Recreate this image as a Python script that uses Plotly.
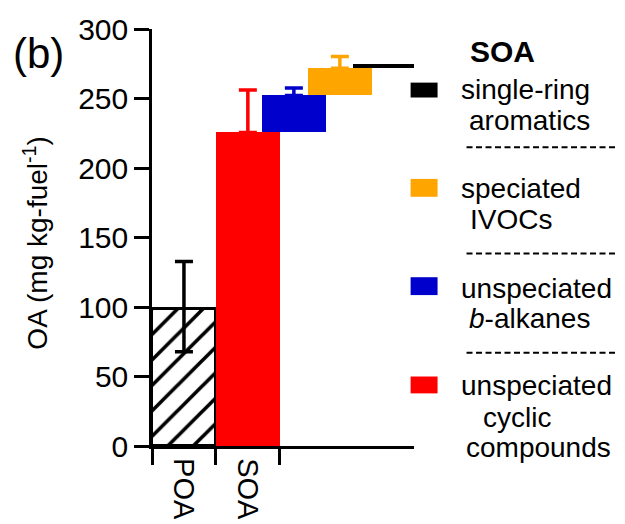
import plotly.graph_objects as go

# ---------------- data ----------------
categories = ["POA", "SOA"]
poa_value = 98.6
poa_err_up = 34.2
poa_err_down = 30.8

soa_components = ["unspeciated cyclic compounds", "unspeciated b-alkanes",
                  "speciated IVOCs", "single-ring aromatics"]
soa_values = [225.6, 26.6, 19.6, 2.8]
soa_err_up = [30.5, 5.3, 8.5, 0.0]
soa_colors = ["#FF0000", "#0000CC", "#FFA500", "#000000"]

legend_lines = [["single-ring", "aromatics"],
                ["speciated", "IVOCs"],
                ["unspeciated", "<i>b</i>-alkanes"],
                ["unspeciated", "cyclic", "compounds"]]
legend_colors = ["#000000", "#FFA500", "#0000CC", "#FF0000"]

y_ticks = [0, 50, 100, 150, 200, 250, 300]

# ---------------- layout constants ----------------
W, H = 625, 524
L, T, B = 152, 26, 78
x_range = [-0.5, 3.6]
unit_px = 64.0
plot_w = (x_range[1] - x_range[0]) * unit_px
R = W - L - plot_w
plot_h = H - T - B
FONT = "Liberation Sans, Arial, sans-serif"

comp_x = [1.0, 1.72, 2.44, 3.125]
comp_w = [1.0, 1.0, 1.0, 0.97]

def px_x(p):
    return (p - L) / plot_w

def px_y(p):
    return (H - B - p) / plot_h

fig = go.Figure()

# POA hatched bar
fig.add_trace(go.Bar(
    x=[0], y=[poa_value], width=[1.0],
    marker=dict(color="white", line=dict(color="black", width=3),
                pattern=dict(shape="/", fgcolor="black", bgcolor="white",
                             fgopacity=1, size=18, solidity=0.2)),
    error_y=dict(type="data", symmetric=False, array=[poa_err_up],
                 arrayminus=[poa_err_down], color="black", thickness=3.5, width=9),
    showlegend=False, hoverinfo="skip"))

# SOA waterfall components
base = 0.0
for i, (name, v) in enumerate(zip(soa_components, soa_values)):
    fig.add_trace(go.Bar(
        x=[comp_x[i]], y=[v], base=[base], width=[comp_w[i]],
        marker=dict(color=soa_colors[i], line=dict(width=0)),
        showlegend=False, hoverinfo="skip", name=name))
    if soa_err_up[i] > 0:
        fig.add_trace(go.Scatter(
            x=[comp_x[i]], y=[base + v], mode="markers",
            marker=dict(size=1, color="rgba(0,0,0,0)"),
            error_y=dict(type="data", symmetric=False, array=[soa_err_up[i]],
                         arrayminus=[0], color=soa_colors[i], thickness=3.5, width=9),
            showlegend=False, hoverinfo="skip", cliponaxis=False))
    base += v

annotations = []
shapes = []

# x category labels (rotated)
for i, c in enumerate(categories):
    annotations.append(dict(x=i, y=0, xref="x", yref="paper", text=c,
                            textangle=90, showarrow=False, xanchor="center",
                            yanchor="top", yshift=-10,
                            font=dict(family=FONT, size=29, color="black")))

# y-axis title
annotations.append(dict(x=px_x(36), y=px_y(241), xref="paper", yref="paper",
                        text="OA (mg kg-fuel<sup>-1</sup>)", textangle=-90,
                        showarrow=False, xanchor="center", yanchor="middle",
                        font=dict(family=FONT, size=28, color="black")))
# panel label
annotations.append(dict(x=px_x(38), y=px_y(51), xref="paper", yref="paper",
                        text="(b)", showarrow=False, xanchor="center", yanchor="middle",
                        font=dict(family=FONT, size=42, color="black")))

# legend header
annotations.append(dict(x=px_x(503), y=px_y(49), xref="paper", yref="paper",
                        text="<b>SOA</b>", showarrow=False, xanchor="center",
                        yanchor="middle", font=dict(family=FONT, size=30, color="black")))

swatch_y = [(80, 95), (177, 195), (276, 294), (376, 393)]
text_pos = [[(459, 87), (467, 118)],
            [(459, 187), (468, 218)],
            [(459, 287), (467, 318)],
            [(459, 385), (482, 417), (464, 448)]]
dash_y = [145, 252, 352]

for k, lines in enumerate(legend_lines):
    y0, y1 = swatch_y[k]
    shapes.append(dict(type="rect", xref="paper", yref="paper",
                       x0=px_x(411), x1=px_x(438), y0=px_y(y1), y1=px_y(y0),
                       fillcolor=legend_colors[k], line=dict(width=0)))
    for txt, (tx, ty) in zip(lines, text_pos[k]):
        annotations.append(dict(x=px_x(tx), y=px_y(ty), xref="paper", yref="paper",
                                text=txt, showarrow=False, xanchor="left",
                                yanchor="middle",
                                font=dict(family=FONT, size=28, color="black")))
for dy in dash_y:
    shapes.append(dict(type="line", xref="paper", yref="paper",
                       x0=px_x(467), x1=px_x(619), y0=px_y(dy), y1=px_y(dy),
                       line=dict(color="black", width=2, dash="6px,3.5px")))

fig.update_layout(
    width=W, height=H,
    margin=dict(l=L, r=R, t=T, b=B, pad=0),
    paper_bgcolor="white", plot_bgcolor="white",
    barmode="overlay", bargap=0,
    showlegend=False,
    annotations=annotations, shapes=shapes,
    xaxis=dict(range=x_range, showgrid=False, zeroline=False,
               showline=True, linecolor="black", linewidth=2.5,
               tickmode="array", tickvals=[-0.5, 0.5, 1.5], showticklabels=False,
               ticks="outside", ticklen=16, tickwidth=2.5, tickcolor="black"),
    yaxis=dict(range=[0, 300], showgrid=False, zeroline=False,
               showline=True, linecolor="black", linewidth=2.5,
               tickmode="array", tickvals=y_ticks,
               ticks="outside", ticklen=15, tickwidth=2.5, tickcolor="black",
               ticklabelstandoff=0,
               tickfont=dict(family=FONT, size=30, color="black")),
)

fig.write_html("out.html")
